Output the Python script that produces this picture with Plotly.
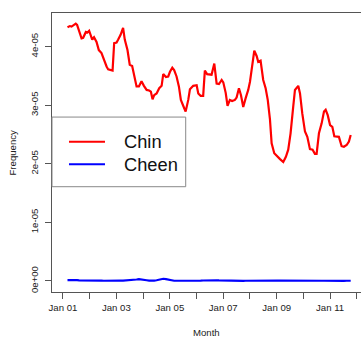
import plotly.graph_objects as go

UNIT = 1e-5

dates = [
    "2001-03-04", "2001-04-05", "2001-04-28", "2001-05-19", "2001-06-25", "2001-07-13",
    "2001-08-10", "2001-09-12", "2001-10-04", "2001-11-10", "2001-12-03", "2001-12-25",
    "2002-02-05", "2002-03-02", "2002-04-05", "2002-05-06", "2002-06-12", "2002-07-13",
    "2002-08-20", "2002-09-11", "2002-10-27", "2002-11-10", "2002-12-02",
    "2003-01-04", "2003-01-26", "2003-02-28", "2003-04-03", "2003-04-26", "2003-06-02",
    "2003-07-03", "2003-08-05", "2003-09-11", "2003-10-04", "2003-11-05", "2003-12-11",
    "2004-01-13", "2004-02-19", "2004-03-24", "2004-04-17", "2004-05-10", "2004-06-01",
    "2004-07-04", "2004-08-09", "2004-09-11", "2004-10-03", "2004-11-09", "2004-12-10",
    "2005-01-03", "2005-02-04", "2005-03-01", "2005-04-03", "2005-05-05", "2005-06-01",
    "2005-07-03", "2005-08-05", "2005-09-10", "2005-10-03", "2005-11-17",
    "2006-01-03", "2006-01-25", "2006-02-27", "2006-04-02", "2006-04-25", "2006-05-26",
    "2006-07-03", "2006-07-26", "2006-09-01", "2006-10-03", "2006-11-04", "2006-12-11",
    "2007-01-02", "2007-02-04", "2007-03-01", "2007-04-02", "2007-05-03", "2007-06-10",
    "2007-07-03", "2007-08-04", "2007-09-01", "2007-10-02", "2007-11-04", "2007-12-09",
    "2008-01-02", "2008-02-03", "2008-03-01", "2008-04-02", "2008-04-24", "2008-05-26",
    "2008-07-01", "2008-08-03", "2008-09-01", "2008-10-01", "2008-10-24", "2008-11-29",
    "2009-01-10", "2009-02-16", "2009-04-01", "2009-05-07", "2009-06-08", "2009-07-10",
    "2009-08-15", "2009-09-08", "2009-10-23", "2009-11-16", "2009-12-17",
    "2010-01-23", "2010-02-24", "2010-04-01", "2010-05-07", "2010-06-08", "2010-07-01",
    "2010-08-02", "2010-09-08", "2010-10-10", "2010-11-02", "2010-11-30",
    "2011-01-01", "2011-02-01", "2011-02-28", "2011-04-01", "2011-05-02", "2011-06-08",
    "2011-07-09", "2011-08-16", "2011-09-16", "2011-10-10",
]

# values in units of 1e-05
chin_e5 = [
    4.33, 4.35, 4.34, 4.36, 4.39, 4.37, 4.25, 4.14, 4.15, 4.25, 4.24, 4.27,
    4.12, 4.16, 4.08, 3.94, 3.89, 3.77, 3.66, 3.61, 3.60, 3.59, 4.06,
    4.07, 4.12, 4.20, 4.32, 4.12, 3.94, 3.69, 3.67, 3.46, 3.32, 3.32, 3.41,
    3.33, 3.26, 3.25, 3.23, 3.10, 3.17, 3.20, 3.29, 3.33, 3.53, 3.48, 3.49,
    3.57, 3.64, 3.60, 3.49, 3.32, 3.09, 2.99, 2.89, 3.09, 3.27, 3.33,
    3.34, 3.20, 3.16, 3.16, 3.59, 3.53, 3.53, 3.52, 3.71, 3.37, 3.36, 3.43,
    3.39, 3.21, 2.99, 3.09, 3.07, 3.09, 3.13, 3.29, 3.17, 2.97, 3.12, 3.26,
    3.40, 3.74, 3.93, 3.84, 3.74, 3.76, 3.43, 3.29, 3.09, 2.76, 2.35, 2.18,
    2.12, 2.08, 2.03, 2.12, 2.24, 2.52, 2.97, 3.26, 3.33, 3.20, 2.86,
    2.55, 2.46, 2.25, 2.24, 2.17, 2.17, 2.52, 2.69, 2.89, 2.92, 2.83,
    2.66, 2.63, 2.47, 2.47, 2.46, 2.30, 2.29, 2.32, 2.38, 2.49,
]

cheen_e5 = [
    0.015, 0.018, 0.020, 0.022, 0.018, 0.015, 0.012, 0.010, 0.012, 0.010, 0.008, 0.008,
    0.006, 0.006, 0.005, 0.006, 0.005, 0.004, 0.006, 0.008, 0.005, 0.004, 0.006,
    0.008, 0.008, 0.006, 0.005, 0.006, 0.008, 0.010, 0.012, 0.018, 0.025, 0.030, 0.028,
    0.020, 0.012, 0.006, 0.004, 0.003, 0.006, 0.012, 0.025, 0.035, 0.038, 0.032, 0.022,
    0.010, 0.006, 0.004, 0.004, 0.003, 0.003, 0.003, 0.004, 0.004, 0.005, 0.004,
    0.004, 0.005, 0.006, 0.008, 0.010, 0.012, 0.010, 0.008, 0.010, 0.012, 0.010, 0.008,
    0.006, 0.005, 0.004, 0.003, 0.004, 0.003, 0.004, 0.005, 0.004, 0.003, 0.004, 0.005,
    0.006, 0.005, 0.004, 0.005, 0.006, 0.005, 0.004, 0.005, 0.006, 0.005, 0.004, 0.005,
    0.006, 0.005, 0.004, 0.005, 0.004, 0.005, 0.004, 0.005, 0.004, 0.003, 0.004,
    0.005, 0.004, 0.003, 0.004, 0.005, 0.004, 0.003, 0.004, 0.004, 0.003, 0.004,
    0.004, 0.003, 0.004, 0.003, 0.004, 0.004, 0.003, 0.004, 0.005, 0.004,
]

series_names = ["Chin", "Cheen"]
series_colors = ["#ff0000", "#0000ff"]

ytick_vals = [0, 1e-5, 2e-5, 3e-5, 4e-5]
ytick_text = ["0e+00", "1e-05", "2e-05", "3e-05", "4e-05"]

chin = [v * UNIT for v in chin_e5]
cheen = [v * UNIT for v in cheen_e5]

FONT = "Liberation Sans, Arial, sans-serif"
AXC = "#555555"

fig = go.Figure()
for name, col, ys in zip(series_names, series_colors, [chin, cheen]):
    fig.add_trace(go.Scatter(x=dates, y=ys, mode="lines", name=name,
                             line=dict(color=col, width=2.2), showlegend=False))

fig.update_layout(
    width=361, height=337,
    margin=dict(l=52, r=0, t=13, b=45),
    paper_bgcolor="white", plot_bgcolor="white",
    font=dict(family=FONT, size=9.6, color="#222222"),
)
fig.update_xaxes(
    type="date", range=["2000-08-04", "2012-02-28"],
    showgrid=False, zeroline=False,
    showline=True, mirror=True, linecolor=AXC, linewidth=1,
    tickmode="linear", tick0="2001-01-01", dtick="M24", tickformat="%b %y",
    ticks="outside", ticklen=6, tickcolor=AXC, tickfont=dict(size=9.6),
    minor=dict(dtick="M12", tick0="2001-01-01", ticks="outside", ticklen=6,
               tickcolor=AXC, showgrid=False),
)
fig.update_yaxes(
    range=[-1.88e-6, 4.573e-5],
    showgrid=False, zeroline=False,
    showline=True, mirror=False, linecolor=AXC, linewidth=1,
    tickmode="array", tickvals=ytick_vals, ticktext=ytick_text,
    tickangle=-90, ticks="outside", ticklen=6, tickcolor=AXC,
    tickfont=dict(size=9.6), ticklabelstandoff=3,
)

# axis titles
fig.add_annotation(text="Month", xref="paper", yref="paper", x=0.5, y=-0.1434,
                   xanchor="center", yanchor="middle", showarrow=False,
                   font=dict(size=9.6, family=FONT, color="#222222"))
fig.add_annotation(text="Frequency", xref="paper", yref="paper", x=-0.1294, y=0.5,
                   xanchor="center", yanchor="middle", showarrow=False, textangle=-90,
                   font=dict(size=9.6, family=FONT, color="#222222"))

# legend box (R-style)
fig.add_shape(type="rect", xref="paper", yref="paper", x0=0, x1=0.4327, y0=0.3774, y1=0.627,
              line=dict(color="#888888", width=1), fillcolor="white", layer="above")
leg_y = [0.5387, 0.4577]
for name, col, yy in zip(series_names, series_colors, leg_y):
    fig.add_shape(type="line", xref="paper", yref="paper", x0=0.055, x1=0.1715, y0=yy, y1=yy,
                  line=dict(color=col, width=2), layer="above")
    fig.add_annotation(text=name, xref="paper", yref="paper", x=0.2265, y=yy,
                       xanchor="left", yanchor="middle", showarrow=False,
                       font=dict(size=18.3, family=FONT, color="#111111"))

fig.write_html(
    "out.html",
    config={"displayModeBar": False},
    post_script="document.body.style.margin='0';document.body.style.overflow='hidden';",
)
